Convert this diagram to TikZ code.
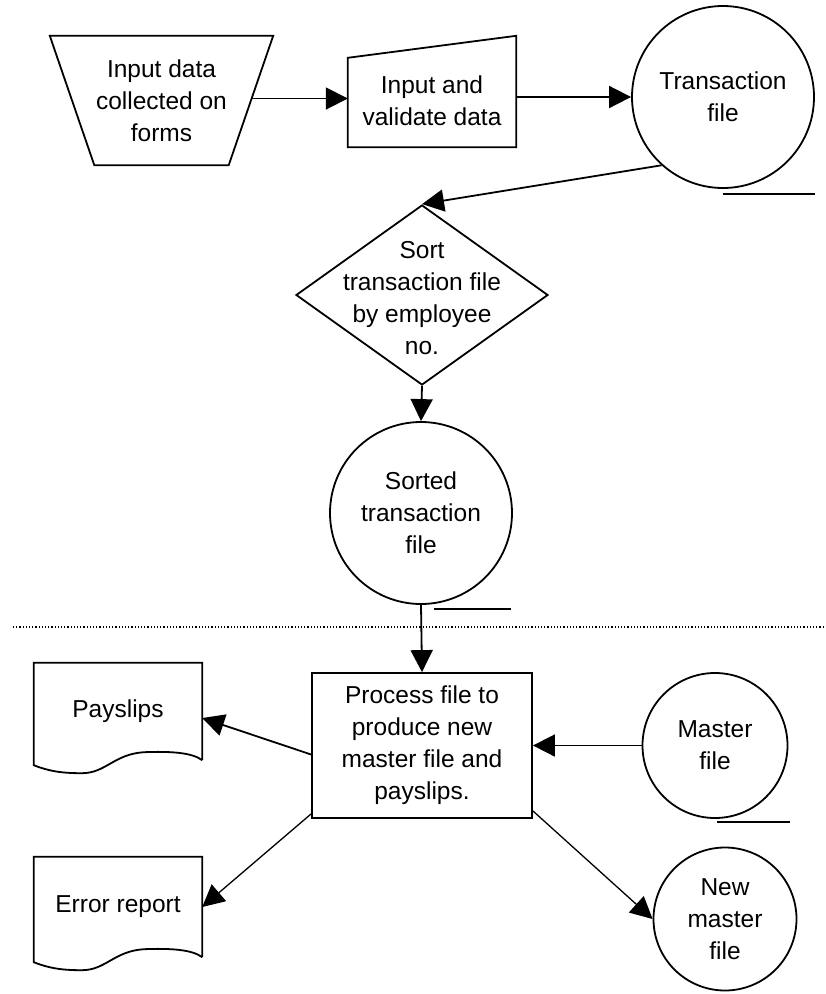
\documentclass[tikz,border=0pt]{standalone}
\usepackage{fontspec}
\setmainfont{Liberation Sans}
\usetikzlibrary{shapes.geometric, arrows.meta, calc}

\tikzset{
  shp/.style={draw, line width=1.8pt},
  arr/.style={line width=1.8pt, -{Triangle[length=22pt, width=22pt]}},
  thinarr/.style={line width=1.3pt, -{Triangle[length=22pt, width=22pt]}},
  store/.style={shp, circle, inner sep=0pt},
  frame/.style={rectangle, inner sep=0pt},
  uline/.style={line width=1.8pt},
}

% printed document symbol: straight top and sides, wavy bottom edge
\newcommand\docshape[1]{%
  \draw[shp] (#1.south east) -- (#1.north east) -- (#1.north west)
    -- ($(#1.south west)+(0,5)$)
    .. controls ($(#1.south west)+(15,11)$) and ($(#1.south west)+(28,13)$) .. ($(#1.south west)+(48,13)$)
    .. controls ($(#1.south west)+(72,13)$) and ($(#1.south west)+(80,-6)$) .. ($(#1.south west)+(110,-8)$)
    .. controls ($(#1.south west)+(135,-9)$) and ($(#1.south west)+(158,-8)$) .. (#1.south east);}

\begin{document}
\begin{tikzpicture}[x=1pt, y=-1pt, font=\fontsize{24.5}{32}\selectfont,
  every node/.append style={align=center}]
\useasboundingbox (0,0) rectangle (826,994);

% manual input of forms (inverted trapezoid)
\node[frame, minimum width=223pt, minimum height=129pt] (forms) at (161.5,100.5)
  {Input data\\collected on\\forms};
\draw[shp] (forms.north west) -- (forms.north east)
  -- ($(forms.south east)+(-44.5,0)$) -- ($(forms.south west)+(44.5,0)$) -- cycle;
\coordinate (formsout) at ($(forms.east)+(-22,-2)$);

% keyboard entry (manual input, sloped top)
\node[frame, minimum width=168pt, minimum height=111pt] (entry) at (432,91.5) {};
\draw[shp] (entry.south west) -- (entry.south east) -- (entry.north east)
  -- ($(entry.north west)+(0,22)$) -- cycle;
\node (entrytxt) at (432,101) {Input and\\validate data};

% transaction file
\node[store, minimum size=182pt] (trans) at (723,97) {Transaction\\file};
\draw[uline] ([yshift=-5pt]trans.south) -- ++(92,0);

% sort step
\node[shp, diamond, minimum width=252pt, minimum height=180pt, inner sep=0pt] (sort) at (422,295) {};
\node (sorttxt) at ([yshift=-3pt]sort.center) {Sort\\transaction file\\by employee\\no.};

% sorted transaction file
\node[store, minimum size=182pt] (sorted) at (421,513) {Sorted\\transaction\\file};
\draw[uline] ([xshift=13pt, yshift=-4pt]sorted.south) -- ++(77,0);

% boundary between sort run and update run
\draw[line width=1.2pt, dash pattern=on 1.2pt off 2pt] (13,627) -- (826,627);

% update run
\node[shp, frame, minimum width=220pt, minimum height=145pt] (proc) at (422,745.5)
  {Process file to\\produce new\\master file and\\payslips.};

\node[store, minimum size=145pt] (master) at (715,745.5) {Master\\file};
\draw[uline] ([xshift=2pt, yshift=-3pt]master.south) -- ++(73,0);

\node[store, minimum size=143pt] (newmaster) at (725,919) {New\\master\\file};

\node[frame, minimum width=168pt, minimum height=97pt] (payslips) at (118,711.5) {Payslips};
\docshape{payslips}
\node[frame, minimum width=168pt, minimum height=100pt] (errors) at (118,907) {Error report};
\docshape{errors}

% data flows
\draw[arr] (formsout) -- (formsout -| entry.west);
\draw[arr] (entry.east |- trans) -- (trans.west);
\draw[arr] (trans.228) -- (sort.north);
\draw[arr] (sort.south) -- (sorted.north);
\draw[arr] (sorted.south) -- (proc.north);
\draw[arr] (master.west) -- (proc.east);
\draw[arr] ([yshift=-9pt]proc.west) -- ([yshift=-6.5pt]payslips.east);
\draw[thinarr] ([yshift=5pt]proc.south west) -- (errors.east);
\draw[thinarr] ([yshift=8pt]proc.south east) -- (newmaster.west);
\end{tikzpicture}
\end{document}
